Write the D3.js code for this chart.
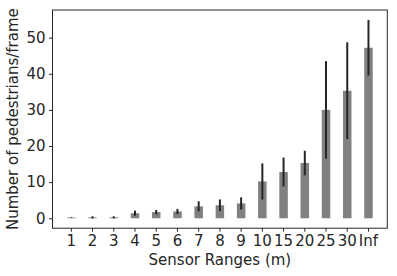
<!DOCTYPE html>
<html>
<head>
<meta charset="utf-8">
<script src="https://cdn.jsdelivr.net/npm/d3@7"></script>
<style>
html,body{margin:0;padding:0;background:#fff;}
svg{display:block;font-family:"DejaVu Sans",sans-serif;}
</style>
</head>
<body>
<svg id="chart" width="397" height="276"></svg>
<script>
const categories = ["1","2","3","4","5","6","7","8","9","10","15","20","25","30","Inf"];
const means = [0.2, 0.25, 0.25, 1.4, 1.7, 1.9, 3.3, 3.6, 4.1, 10.2, 12.8, 15.3, 30.0, 35.3, 47.2];
const errors = [0.1, 0.3, 0.3, 0.7, 0.6, 0.7, 1.4, 1.6, 1.7, 5.0, 4.0, 3.4, 13.5, 13.4, 7.7];
const yTicks = [0, 10, 20, 30, 40, 50];

(function () {
const svg = d3.select("#chart");
const mLeft = 52.5, mRight = 387.3, mTop = 10, mBottom = 228.2;

const x = d3.scaleBand().domain(categories).range([mLeft, mRight])
  .paddingInner(0.6).paddingOuter(0.687);
const y = d3.scaleLinear().domain([-2.75, 57.65]).range([mBottom, mTop]);

const data = categories.map((c, i) => ({c, m: means[i], e: errors[i]}));

svg.append("g").selectAll("rect").data(data).join("rect")
  .attr("x", d => x(d.c))
  .attr("width", x.bandwidth())
  .attr("y", d => y(d.m))
  .attr("height", d => y(0) - y(d.m))
  .attr("fill", "#808080");

svg.append("g").selectAll("line").data(data).join("line")
  .attr("x1", d => x(d.c) + x.bandwidth() / 2)
  .attr("x2", d => x(d.c) + x.bandwidth() / 2)
  .attr("y1", d => y(d.m - d.e))
  .attr("y2", d => y(d.m + d.e))
  .attr("stroke", "#262626")
  .attr("stroke-width", 2);

svg.append("rect").attr("x", mLeft).attr("y", mTop)
  .attr("width", mRight - mLeft).attr("height", mBottom - mTop)
  .attr("fill", "none").attr("stroke", "#262626").attr("stroke-width", 1);

const xAxis = svg.append("g").attr("transform", `translate(0,${mBottom})`)
  .call(d3.axisBottom(x).tickSize(3.5).tickPadding(3.5));
const yAxis = svg.append("g").attr("transform", `translate(${mLeft},0)`)
  .call(d3.axisLeft(y).tickValues(yTicks).tickSize(3.5).tickPadding(3.5));
[xAxis, yAxis].forEach(g => {
  g.select(".domain").remove();
  g.selectAll("line").attr("stroke", "#262626");
  g.selectAll("text").attr("fill", "#262626")
    .style("font-family", "'DejaVu Sans', sans-serif").style("font-size", "15px");
});

svg.append("text").attr("x", (mLeft + mRight) / 2).attr("y", 265)
  .attr("text-anchor", "middle").attr("fill", "#262626")
  .style("font-size", "15px").text("Sensor Ranges (m)");
svg.append("text").attr("transform", `translate(18,${(mTop + mBottom) / 2}) rotate(-90)`)
  .attr("text-anchor", "middle").attr("fill", "#262626")
  .style("font-size", "15px").text("Number of pedestrians/frame");
})();
</script>
</body>
</html>
